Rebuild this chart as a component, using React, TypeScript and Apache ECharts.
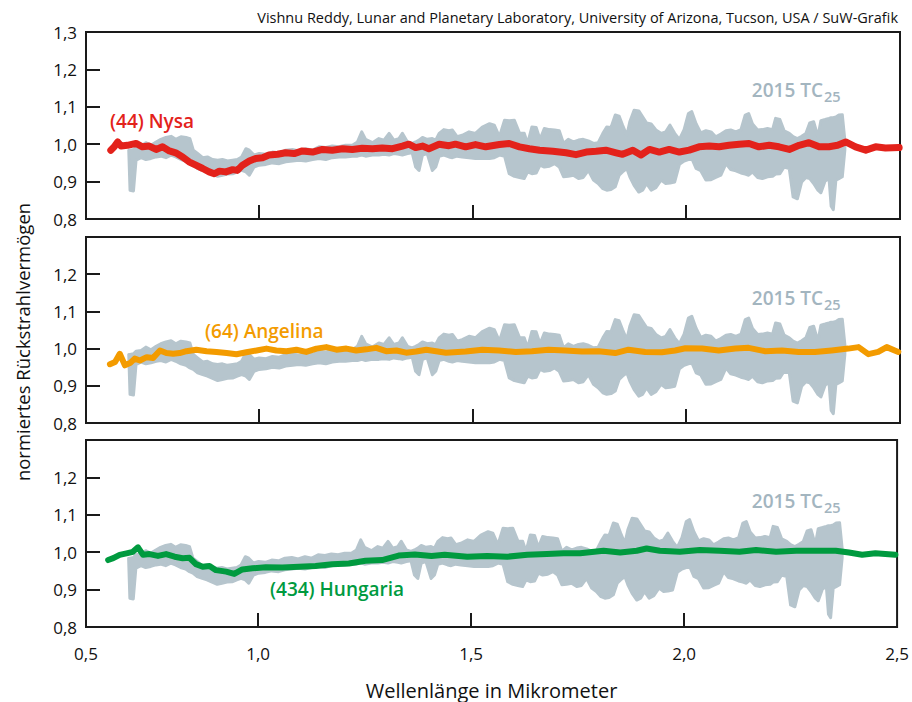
import React, { useEffect, useRef } from "react";
import * as echarts from "echarts";

// ---- x axis (wavelength in micrometres) ----
const X_MIN = 0.596;
const X_MAX = 2.5;
const xTickValues = [1.0, 1.5, 2.0];
const xLabelValues = [X_MIN, 1.0, 1.5, 2.0, 2.5];
const xLabelTexts = ["0,5", "1,0", "1,5", "2,0", "2,5"];

// ---- 2015 TC25 (grey band: upper / lower envelope) ----
const bandWl = [
  0.696,0.699,0.707,0.713,0.725,0.736,0.748,0.760,0.771,0.783,
  0.795,0.806,0.818,0.830,0.839,0.847,0.857,0.869,0.880,0.892,
  0.904,0.915,0.927,0.939,0.950,0.960,0.970,0.978,0.989,1.001,
  1.017,1.032,1.048,1.063,1.079,1.094,1.110,1.126,1.141,1.157,
  1.172,1.188,1.203,1.219,1.231,1.241,1.250,1.266,1.281,1.293,
  1.305,1.316,1.328,1.336,1.348,1.359,1.367,1.375,1.383,1.394,
  1.406,1.414,1.422,1.433,1.445,1.453,1.464,1.476,1.492,1.507,
  1.523,1.540,1.551,1.563,1.575,1.586,1.598,1.610,1.621,1.629,
  1.639,1.649,1.658,1.668,1.680,1.692,1.703,1.713,1.724,1.736,
  1.748,1.759,1.771,1.783,1.794,1.805,1.814,1.824,1.834,1.843,
  1.851,1.861,1.868,1.878,1.889,1.898,1.907,1.918,1.929,1.941,
  1.952,1.962,1.973,1.984,1.995,2.005,2.013,2.023,2.034,2.046,
  2.058,2.069,2.081,2.093,2.104,2.116,2.128,2.138,2.146,2.155,
  2.167,2.178,2.190,2.202,2.209,2.219,2.229,2.241,2.250,2.260,
  2.270,2.280,2.289,2.298,2.308,2.315,2.325,2.334,2.339,2.344,
  2.350,2.357,2.365,2.371,
];
const bandHi = [
  0.984,0.984,0.986,0.993,0.995,1.004,0.997,1.006,1.013,1.018,
  1.021,1.013,1.020,1.018,1.015,0.984,0.975,0.964,0.966,0.959,
  0.957,0.959,0.955,0.957,0.959,0.966,0.988,0.984,0.971,0.975,
  0.973,0.979,0.977,0.984,0.986,0.982,0.988,0.984,0.993,0.991,
  0.995,0.993,0.997,0.997,1.006,1.033,1.013,1.004,1.015,1.011,
  1.029,1.011,1.015,1.029,1.006,1.002,1.006,1.011,1.018,1.013,
  1.015,1.011,1.029,1.039,1.036,1.038,1.020,1.024,1.033,1.029,
  1.046,1.055,1.051,1.020,1.064,1.063,1.064,1.030,1.029,1.002,
  1.046,1.045,1.013,1.042,1.039,1.038,1.036,1.002,1.013,1.006,
  1.011,1.013,1.009,1.002,1.004,1.029,1.046,1.045,1.078,1.075,
  1.051,1.024,1.060,1.091,1.089,1.073,1.057,1.054,1.038,1.029,
  1.033,1.051,1.029,1.013,1.039,1.082,1.087,1.055,1.030,1.036,
  1.033,1.020,1.027,1.036,1.038,1.033,1.039,1.078,1.082,1.054,
  1.038,1.039,1.042,1.039,1.069,1.066,1.036,1.029,1.020,1.015,
  1.021,1.029,1.057,1.060,1.020,1.063,1.066,1.069,1.071,1.071,
  1.073,1.078,1.079,1.011,
];
const bandLo = [
  0.984,0.877,0.875,0.957,0.964,0.959,0.962,0.966,0.968,0.964,
  0.971,0.966,0.959,0.955,0.948,0.944,0.935,0.930,0.926,0.920,
  0.914,0.917,0.920,0.921,0.926,0.930,0.926,0.917,0.939,0.944,
  0.946,0.950,0.948,0.953,0.955,0.957,0.955,0.959,0.962,0.959,
  0.964,0.966,0.966,0.968,0.968,0.971,0.968,0.971,0.971,0.973,
  0.971,0.975,0.973,0.971,0.975,0.977,0.939,0.930,0.971,0.975,
  0.930,0.939,0.968,0.971,0.966,0.964,0.968,0.966,0.964,0.962,
  0.962,0.962,0.964,0.971,0.968,0.921,0.914,0.911,0.908,0.926,
  0.921,0.923,0.944,0.939,0.941,0.948,0.939,0.913,0.914,0.917,
  0.908,0.911,0.930,0.904,0.895,0.881,0.877,0.879,0.886,0.917,
  0.926,0.935,0.913,0.890,0.872,0.877,0.895,0.877,0.884,0.904,
  0.895,0.896,0.899,0.946,0.955,0.959,0.962,0.935,0.929,0.904,
  0.905,0.911,0.917,0.948,0.932,0.929,0.923,0.920,0.917,0.926,
  0.911,0.908,0.913,0.914,0.920,0.921,0.939,0.935,0.859,0.854,
  0.899,0.911,0.908,0.895,0.877,0.870,0.902,0.908,0.834,0.825,
  0.904,0.908,0.913,0.984,
];

// ---- (44) Nysa ----
const nysaWl = [0.654,0.662,0.670,0.678,0.693,0.713,0.728,0.744,0.760,0.775,0.791,0.806,0.822,0.837,0.853,0.869,0.884,0.896,0.908,0.923,0.939,0.950,0.962,0.978,0.993,1.009,1.024,1.044,1.063,1.083,1.102,1.126,1.149,1.172,1.196,1.219,1.242,1.266,1.289,1.313,1.336,1.351,1.367,1.383,1.398,1.422,1.445,1.460,1.484,1.507,1.531,1.563,1.586,1.610,1.633,1.657,1.688,1.719,1.742,1.766,1.789,1.812,1.836,1.851,1.875,1.894,1.914,1.937,1.960,1.984,2.007,2.030,2.054,2.077,2.100,2.124,2.147,2.170,2.194,2.217,2.241,2.264,2.287,2.311,2.334,2.354,2.373,2.396,2.420,2.443,2.466,2.498];
const nysaVal = [0.984,0.993,1.006,0.995,0.997,1.002,0.993,0.995,0.986,0.993,0.982,0.977,0.966,0.953,0.944,0.935,0.926,0.921,0.928,0.926,0.932,0.930,0.944,0.955,0.962,0.964,0.971,0.973,0.977,0.975,0.982,0.979,0.986,0.984,0.988,0.986,0.989,0.988,0.990,0.988,0.995,1.0,0.991,0.995,0.988,1.0,0.996,1.0,0.993,0.999,0.993,0.999,1.002,0.993,0.988,0.984,0.981,0.977,0.972,0.979,0.981,0.984,0.977,0.973,0.984,0.971,0.986,0.979,0.986,0.979,0.984,0.993,0.995,0.993,0.997,1.0,1.002,0.993,0.997,0.993,0.986,0.997,1.004,0.993,0.993,0.997,1.006,0.993,0.984,0.993,0.990,0.991];

// ---- (64) Angelina ----
const angWl = [0.652,0.664,0.675,0.687,0.699,0.710,0.722,0.738,0.753,0.769,0.784,0.800,0.815,0.831,0.854,0.878,0.901,0.925,0.948,0.971,0.995,1.018,1.041,1.065,1.088,1.111,1.135,1.158,1.182,1.205,1.228,1.252,1.275,1.298,1.322,1.345,1.368,1.392,1.415,1.438,1.484,1.523,1.562,1.601,1.639,1.678,1.717,1.756,1.795,1.834,1.865,1.904,1.943,1.974,1.998,2.037,2.076,2.115,2.146,2.185,2.224,2.263,2.301,2.340,2.379,2.403,2.426,2.449,2.469,2.496];
const angVal = [0.958,0.964,0.986,0.955,0.961,0.973,0.968,0.977,0.975,0.995,0.988,0.986,0.988,0.993,0.997,0.993,0.991,0.988,0.985,0.990,0.995,1.0,0.995,0.993,0.997,0.991,1.0,1.004,0.997,1.0,0.995,0.998,1.002,0.993,0.995,0.989,0.992,0.997,0.993,0.989,0.992,0.997,0.995,0.991,0.993,0.997,0.995,0.992,0.993,0.988,0.997,0.991,0.990,0.995,1.001,1.0,0.995,1.0,1.002,0.993,0.995,0.991,0.991,0.995,1.0,1.004,0.985,0.991,1.004,0.991];

// ---- (434) Hungaria ----
const hunWl = [0.648,0.660,0.675,0.691,0.706,0.718,0.730,0.745,0.765,0.784,0.804,0.823,0.839,0.854,0.870,0.886,0.901,0.925,0.944,0.963,0.987,1.018,1.057,1.096,1.135,1.174,1.213,1.252,1.291,1.330,1.368,1.407,1.438,1.491,1.538,1.585,1.632,1.678,1.717,1.756,1.811,1.850,1.889,1.912,1.943,1.990,2.037,2.083,2.130,2.169,2.216,2.263,2.309,2.356,2.387,2.418,2.449,2.496];
const hunVal = [0.979,0.984,0.993,0.997,1.001,1.013,0.993,0.995,0.990,0.995,0.988,0.984,0.985,0.968,0.961,0.963,0.952,0.948,0.942,0.954,0.957,0.960,0.959,0.961,0.963,0.968,0.970,0.977,0.979,0.991,0.994,0.990,0.993,0.988,0.990,0.988,0.993,0.995,0.997,0.997,1.004,0.999,1.004,1.010,1.004,1.001,1.006,1.004,1.001,1.006,1.001,1.004,1.004,1.004,0.999,0.993,0.997,0.993];

const AX = "#1a1a1a";
const GREY = "#b6c5cd";
const GREY_TXT = "#a3b5bf";
const RED = "#e3221b";
const ORANGE = "#f39b00";
const GREEN = "#009a3f";
const FONT = "'Open Sans', 'Noto Sans', sans-serif";

const fmtY = (panel: number) => (v: number) => {
  if (panel > 0 && v > 1.25) return "";
  return v.toFixed(1).replace(".", ",");
};
const fmtX = (v: number) => {
  const i = xLabelValues.findIndex((t) => Math.abs(t - v) < 1e-6);
  return i >= 0 ? xLabelTexts[i] : "";
};

const zip = (a: number[], b: number[]) => a.map((x, i) => [x, b[i]]);

export default function App() {
  const ref = useRef<HTMLDivElement>(null);
  useEffect(() => {
    if (!ref.current) return;
    const chart = echarts.init(ref.current, undefined, { renderer: "svg" });
    const grids = [
      { left: 86, top: 32, width: 814, height: 187 },
      { left: 86, top: 237, width: 814, height: 186 },
      { left: 86, top: 440, width: 814, height: 187 },
    ].map((g) => ({ ...g, show: true, borderColor: AX, borderWidth: 2, backgroundColor: "transparent" }));

    const xAxes = [0, 1, 2].map((i) => ({
      gridIndex: i,
      type: "value",
      min: X_MIN,
      max: X_MAX,
      axisLine: { show: true, onZero: false, lineStyle: { color: AX, width: 2 } },
      axisTick: { show: true, inside: true, length: 14, customValues: xTickValues, lineStyle: { color: AX, width: 2 } },
      axisLabel: { show: i === 2, customValues: xLabelValues, formatter: fmtX, fontSize: 17, color: "#111", fontFamily: FONT, margin: 18 },
      splitLine: { show: false },
      name: i === 2 ? "Wellenlänge in Mikrometer" : "",
      nameLocation: "middle",
      nameGap: 53,
      nameTextStyle: { fontSize: 20, color: "#111", fontFamily: FONT },
    }));
    const yAxes = [0, 1, 2].map((i) => ({
      gridIndex: i,
      type: "value",
      min: 0.8,
      max: 1.3,
      interval: 0.1,
      axisLine: { show: true, lineStyle: { color: AX, width: 2 } },
      axisTick: { show: true, inside: true, length: 14, lineStyle: { color: AX, width: 2 } },
      axisLabel: { formatter: fmtY(i), fontSize: 17, color: "#111", fontFamily: FONT, margin: 9 },
      splitLine: { show: false },
    }));

    const bandSeries = [0, 1, 2].map((i) => ({
      type: "custom",
      xAxisIndex: i,
      yAxisIndex: i,
      z: 1,
      silent: true,
      data: [[bandWl[0], bandHi[0]]],
      renderItem: (params: any, api: any) => {
        const pts: number[][] = [];
        for (let k = 0; k < bandWl.length; k++) pts.push(api.coord([bandWl[k], bandHi[k]]));
        for (let k = bandWl.length - 1; k >= 0; k--) pts.push(api.coord([bandWl[k], bandLo[k]]));
        return {
          type: "polygon",
          shape: { points: pts },
          style: { fill: GREY, stroke: GREY, lineWidth: 3, lineJoin: "round" },
        };
      },
    }));

    const lineSeries = [
      { data: zip(nysaWl, nysaVal), color: RED, width: 7 },
      { data: zip(angWl, angVal), color: ORANGE, width: 6 },
      { data: zip(hunWl, hunVal), color: GREEN, width: 6 },
    ].map((s, i) => ({
      type: "line",
      xAxisIndex: i,
      yAxisIndex: i,
      z: 3,
      data: s.data,
      showSymbol: false,
      symbol: "none",
      silent: true,
      lineStyle: { color: s.color, width: s.width, join: "round", cap: "round" },
    }));

    const tcLabel = (yc: number) => [
      { type: "text", x: 823, y: yc, style: { text: "2015 TC", align: "right", verticalAlign: "middle", fontSize: 19, fontWeight: 600, fill: GREY_TXT, fontFamily: FONT } },
      { type: "text", x: 824, y: yc + 6, style: { text: "25", align: "left", verticalAlign: "middle", fontSize: 14.5, fontWeight: 600, fill: GREY_TXT, fontFamily: FONT } },
    ];

    chart.setOption({
      animation: false,
      grid: grids,
      xAxis: xAxes,
      yAxis: yAxes,
      series: [...bandSeries, ...lineSeries],
      graphic: [
        { type: "text", x: 898, y: 17, style: { text: "Vishnu Reddy, Lunar and Planetary Laboratory, University of Arizona, Tucson, USA / SuW-Grafik", align: "right", verticalAlign: "middle", fontSize: 14.5, fill: "#111", fontFamily: FONT } },
        { type: "text", x: 22, y: 342, rotation: Math.PI / 2, style: { text: "normiertes Rückstrahlvermögen", align: "center", verticalAlign: "middle", fontSize: 18.5, fill: "#111", fontFamily: FONT } },
        { type: "text", x: 110, y: 121, style: { text: "(44) Nysa", align: "left", verticalAlign: "middle", fontSize: 19, fontWeight: 600, fill: RED, fontFamily: FONT } },
        { type: "text", x: 205, y: 331, style: { text: "(64) Angelina", align: "left", verticalAlign: "middle", fontSize: 19, fontWeight: 600, fill: ORANGE, fontFamily: FONT } },
        { type: "text", x: 270, y: 589, style: { text: "(434) Hungaria", align: "left", verticalAlign: "middle", fontSize: 19, fontWeight: 600, fill: GREEN, fontFamily: FONT } },
        ...tcLabel(90),
        ...tcLabel(298),
        ...tcLabel(501),
      ],
    });
    return () => chart.dispose();
  }, []);
  return <div ref={ref} style={{ position: "absolute", left: 0, top: 0, width: 912, height: 702, background: "#fff" }} />;
}
